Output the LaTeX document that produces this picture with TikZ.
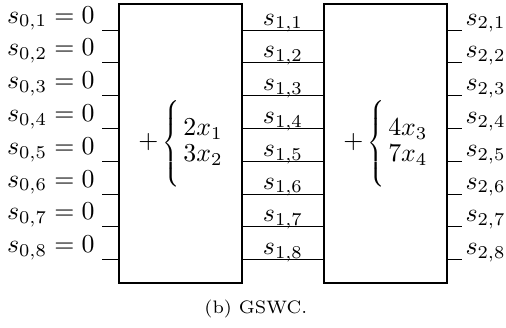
\documentclass[tikz,border=0pt]{standalone}
\usepackage{amsmath,amssymb,graphicx}
\usetikzlibrary{calc,positioning}
\tikzset{
  gblock/.style={rectangle, draw=black, line width=0.8pt, fill=white,
                 minimum width=16.75mm, minimum height=37.99mm, inner sep=0pt},
  gwire/.style ={line width=0.4pt, black},
  glabel/.style={inner sep=0pt, font=\normalsize},
  gcap/.style  ={inner sep=0pt, font=\scriptsize},
}
\newcommand{\gbrace}{\mathord{\scalebox{0.75}[0.8]{$\left\{\vcenter{\hbox{\rule{0pt}{40pt}}}\right.\kern-\nulldelimiterspace$}}}
\newcommand{\addx}[2]{\,\gbrace\kern1.3pt\begin{array}{@{}l@{}}#1\\[-2pt]#2\end{array}}

\begin{document}
\begin{tikzpicture}
  \useasboundingbox (0,0) rectangle (6.890,4.453);
  \node[gblock] (A) at (2.458,2.499) {$+\addx{2x_1}{3x_2}$};
  \node[gblock] (B) at (5.249,2.499) {$+\addx{4x_3}{7x_4}$};
  \foreach \i in {1,...,8}{
    \coordinate (in\i)  at (1.389,{4.044-(\i-1)*0.4466});
    \coordinate (out\i) at (6.291,{4.044-(\i-1)*0.4466});
    \draw[gwire] (in\i) -- (in\i -| A.west);
    \draw[gwire] (in\i -| A.east) -- (in\i -| B.west);
    \draw[gwire] (in\i -| B.east) -- (out\i);
    \node[glabel, anchor=base east] (s0\i) at ($(in\i)+(-0.095,0.095)$) {$s_{0,\i}=0$};
    \node[glabel, anchor=base] (s1\i) at ($(in\i -| A.east)!0.5!(in\i -| B.west)+(0,0.068)$) {$s_{1,\i}$};
    \node[glabel, anchor=base west] (s2\i) at ($(out\i)+(0.041,0.068)$) {$s_{2,\i}$};
  }
  \node[gcap, anchor=base] (cap) at (3.483,0.19) {(b) GSWC.};
\end{tikzpicture}
\end{document}
